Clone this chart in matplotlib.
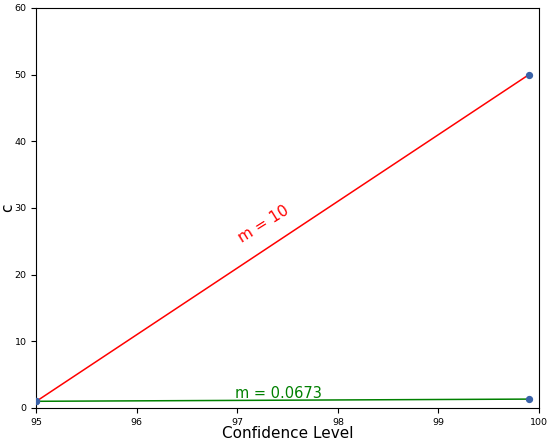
import numpy as np
import matplotlib.pyplot as plt

# confidence level vs c
conf = [95, 99.9]
c_a = [1, 50]
c_b = [1, 1.33]

fig, ax = plt.subplots(figsize=(5.5, 4.42), dpi=100)
fig.subplots_adjust(left=0.066, right=0.98, top=0.982, bottom=0.077)

ax.plot(conf, c_a, color="red", lw=1.1)
ax.plot(conf, c_b, color="green", lw=1.1)
ax.scatter(conf + conf, c_a + c_b, s=18, color="#3a62a8", zorder=3)

ax.text(96.98, 24.8, "m = 10", color="red", fontsize=11, rotation=32)
ax.text(96.98, 1.45, "m = 0.0673", color="green", fontsize=10.5)

ax.set_xlim(95, 100)
ax.set_ylim(0, 60)
ax.set_xlabel("Confidence Level", fontsize=11)
ax.set_ylabel("c", fontsize=11)
ax.xaxis.set_label_coords(0.5, -0.046)
ax.yaxis.set_label_coords(-0.043, 0.5)
ax.tick_params(labelsize=6.8)

plt.savefig("out.png")
